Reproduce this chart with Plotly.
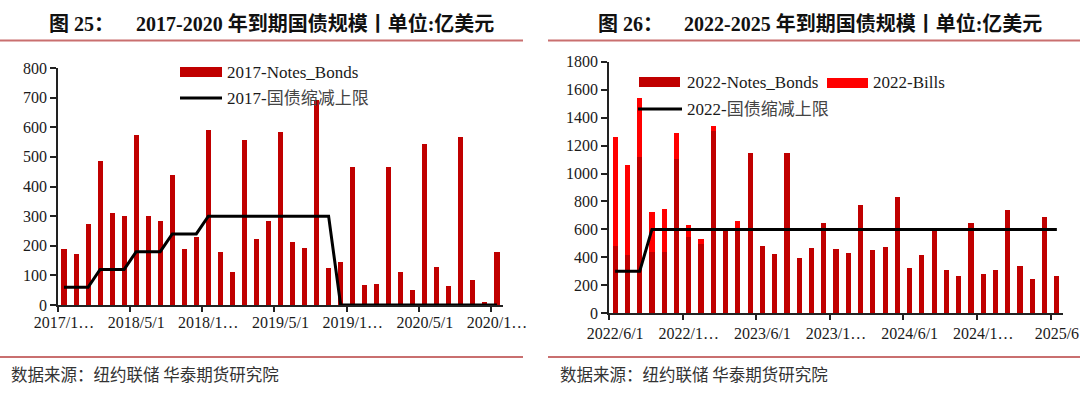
import plotly.graph_objects as go

W, H = 1080, 396

# ---------------- data ----------------
left_months = ["2017/11/1", "2017/12/1",
               "2018/1/1", "2018/2/1", "2018/3/1", "2018/4/1", "2018/5/1", "2018/6/1",
               "2018/7/1", "2018/8/1", "2018/9/1", "2018/10/1", "2018/11/1", "2018/12/1",
               "2019/1/1", "2019/2/1", "2019/3/1", "2019/4/1", "2019/5/1", "2019/6/1",
               "2019/7/1", "2019/8/1", "2019/9/1", "2019/10/1", "2019/11/1", "2019/12/1",
               "2020/1/1", "2020/2/1", "2020/3/1", "2020/4/1", "2020/5/1", "2020/6/1",
               "2020/7/1", "2020/8/1", "2020/9/1", "2020/10/1", "2020/11/1"]
left_notes_bonds = [188, 172, 274, 485, 309, 302, 574, 302, 283, 438,
                    188, 228, 592, 178, 113, 558, 223, 282, 584, 212,
                    192, 693, 126, 144, 466, 69, 70, 466, 110, 52,
                    545, 127, 64, 566, 83, 9, 179]
left_cap = [60, 60, 60, 120, 120, 120, 180, 180, 180, 240, 240, 240,
            300, 300, 300, 300, 300, 300, 300, 300, 300, 300, 300,
            0, 0, 0, 0, 0, 0, 0, 0, 0, 0, 0, 0, 0, 0]
left_ticktext = ["2017/1…", "2018/5/1", "2018/1…", "2019/5/1", "2019/1…", "2020/5/1", "2020/1…"]

right_months = ["2022/6/1", "2022/7/1", "2022/8/1", "2022/9/1", "2022/10/1", "2022/11/1", "2022/12/1",
                "2023/1/1", "2023/2/1", "2023/3/1", "2023/4/1", "2023/5/1", "2023/6/1",
                "2023/7/1", "2023/8/1", "2023/9/1", "2023/10/1", "2023/11/1", "2023/12/1",
                "2024/1/1", "2024/2/1", "2024/3/1", "2024/4/1", "2024/5/1", "2024/6/1",
                "2024/7/1", "2024/8/1", "2024/9/1", "2024/10/1", "2024/11/1", "2024/12/1",
                "2025/1/1", "2025/2/1", "2025/3/1", "2025/4/1", "2025/5/1", "2025/6/1"]
right_notes_bonds = [484, 417, 1121, 441, 441, 1104, 544, 494, 1307, 603,
                     608, 1144, 484, 427, 1144, 398, 465, 644, 460, 429,
                     775, 451, 472, 835, 322, 415, 596, 310, 269, 649,
                     284, 310, 739, 336, 243, 687, 265]
right_bills = [780, 644, 417, 284, 305, 184, 90, 38, 35, 0,
               52, 0, 0, 0, 0, 0, 0, 0, 0, 0,
               0, 0, 0, 0, 0, 0, 0, 0, 0, 0,
               0, 0, 0, 0, 0, 0, 0]
right_cap = [300, 300, 300] + [600] * 34
right_ticktext = ["2022/6/1", "2022/1…", "2023/6/1", "2023/1…", "2024/6/1", "2024/1…", "2025/6"]

# ---------------- styles ----------------
DARK_RED = "#C00000"
BRIGHT_RED = "#FF0000"
RULE = "#C96F6F"
SERIF = "Liberation Serif"
MIXED = "Liberation Serif, Noto Sans CJK SC"
TXT = "#1a1a1a"


def px(x):
    return x / W


def py(y):
    return 1 - y / H


xl = list(range(len(left_months)))
xr = list(range(len(right_months)))

fig = go.Figure()
fig.add_trace(go.Bar(x=xl, y=left_notes_bonds, customdata=left_months, name="2017-Notes_Bonds",
                     marker=dict(color=DARK_RED, line=dict(width=0)), width=0.42,
                     xaxis="x", yaxis="y", showlegend=False,
                     hovertemplate="%{customdata}: %{y}<extra></extra>"))
fig.add_trace(go.Scatter(x=xl, y=left_cap, customdata=left_months, name="2017-国债缩减上限",
                         mode="lines", line=dict(color="#000", width=3),
                         xaxis="x", yaxis="y", showlegend=False,
                         hovertemplate="%{customdata}: %{y}<extra></extra>"))
fig.add_trace(go.Bar(x=xr, y=right_notes_bonds, customdata=right_months, name="2022-Notes_Bonds",
                     marker=dict(color=DARK_RED, line=dict(width=0)), width=0.42,
                     xaxis="x2", yaxis="y2", showlegend=False,
                     hovertemplate="%{customdata}: %{y}<extra></extra>"))
fig.add_trace(go.Bar(x=xr, y=right_bills, customdata=right_months, name="2022-Bills",
                     marker=dict(color=BRIGHT_RED, line=dict(width=0)), width=0.42,
                     xaxis="x2", yaxis="y2", showlegend=False,
                     hovertemplate="%{customdata}: %{y}<extra></extra>"))
fig.add_trace(go.Scatter(x=xr, y=right_cap, customdata=right_months, name="2022-国债缩减上限",
                         mode="lines", line=dict(color="#000", width=3),
                         xaxis="x2", yaxis="y2", showlegend=False,
                         hovertemplate="%{customdata}: %{y}<extra></extra>"))


def xaxis_cfg(domain, n, ticktext, standoff):
    major = list(range(0, n, 6))
    return dict(domain=domain, range=[-0.5, n - 0.5], showline=True, linecolor="#222", linewidth=1.5,
                tickmode="array", tickvals=major, ticktext=ticktext, ticks="",
                tickfont=dict(family=SERIF, size=16, color=TXT), showgrid=False, zeroline=False,
                ticklabelstandoff=standoff,
                minor=dict(tickmode="array", tickvals=[v - 0.5 for v in major], ticks="outside",
                           ticklen=5, tickwidth=1.5, tickcolor="#222", showgrid=False),
                fixedrange=True)


def yaxis_cfg(domain, rng, dtick, anchor, size):
    return dict(domain=domain, range=rng, dtick=dtick, tick0=0, showline=True, linecolor="#222",
                linewidth=1.5, ticks="outside", ticklen=6, tickwidth=1.5, tickcolor="#222",
                tickfont=dict(family=SERIF, size=size, color=TXT), showgrid=False, zeroline=False,
                anchor=anchor, fixedrange=True)


fig.update_layout(
    width=W, height=H, margin=dict(l=0, r=0, t=0, b=0, autoexpand=False),
    paper_bgcolor="white", plot_bgcolor="white",
    font=dict(family=SERIF, color=TXT),
    barmode="stack", bargap=0.58, showlegend=False,
    xaxis=xaxis_cfg([px(58), px(503)], len(xl), left_ticktext, 2),
    yaxis=yaxis_cfg([py(305), py(68)], [0, 800], 100, "x", 16),
    xaxis2=dict(xaxis_cfg([px(609), px(1063)], len(xr), right_ticktext, 5), anchor="y2"),
    yaxis2=yaxis_cfg([py(313.3), py(61.7)], [0, 1800], 200, "x2", 16),
)

shapes = []
annotations = []

# title rules and footer rules
for x0, x1 in [(0, 523), (548, 1080)]:
    for yy in (40.5, 357):
        shapes.append(dict(type="line", xref="paper", yref="paper", x0=px(x0), x1=px(x1),
                           y0=py(yy), y1=py(yy), line=dict(color=RULE, width=2)))


def text(x, y, s, size, family=MIXED, color=TXT, bold=False):
    if bold:
        s = "<b>" + s + "</b>"
    annotations.append(dict(xref="paper", yref="paper", x=px(x), y=py(y), text=s, showarrow=False,
                            xanchor="left", yanchor="middle", font=dict(family=family, size=size, color=color)))


# titles
text(47, 24, "图 25：", 20, bold=True, color="#111")
text(134, 24, "2017-2020 年到期国债规模丨单位:亿美元", 20, bold=True, color="#111")
text(596, 24, "图 26：", 20, bold=True, color="#111")
text(682, 24, "2022-2025 年到期国债规模丨单位:亿美元", 20, bold=True, color="#111")

# sources
text(9, 374, "数据来源：纽约联储 华泰期货研究院", 16.5, family="Noto Sans CJK SC", color="#333")
text(558, 374, "数据来源：纽约联储 华泰期货研究院", 16.5, family="Noto Sans CJK SC", color="#333")


# legends (drawn keys + text)
def key_box(x0, x1, yc, color):
    shapes.append(dict(type="rect", xref="paper", yref="paper", x0=px(x0), x1=px(x1),
                       y0=py(yc + 5), y1=py(yc - 5), fillcolor=color, line=dict(width=0)))


def key_line(x0, x1, yc):
    shapes.append(dict(type="line", xref="paper", yref="paper", x0=px(x0), x1=px(x1),
                       y0=py(yc), y1=py(yc), line=dict(color="#000", width=3)))


key_box(180, 222, 72, DARK_RED)
text(225, 72, "2017-Notes_Bonds", 17)
key_line(180, 222, 98)
text(225, 98, "2017-<span style='color:#444'>国债缩减上限</span>", 17)

key_box(639, 680, 82, DARK_RED)
text(685, 82, "2022-Notes_Bonds", 17)
key_box(827, 868, 83, BRIGHT_RED)
text(871, 83, "2022-Bills", 17)
key_line(638, 682, 109)
text(685, 109, "2022-<span style='color:#444'>国债缩减上限</span>", 17)

fig.update_layout(shapes=shapes, annotations=annotations)
fig.write_html("out.html", config={"displayModeBar": False},
               post_script="document.body.style.margin='0';document.body.style.padding='0';"
                           "document.documentElement.style.overflow='hidden';")
